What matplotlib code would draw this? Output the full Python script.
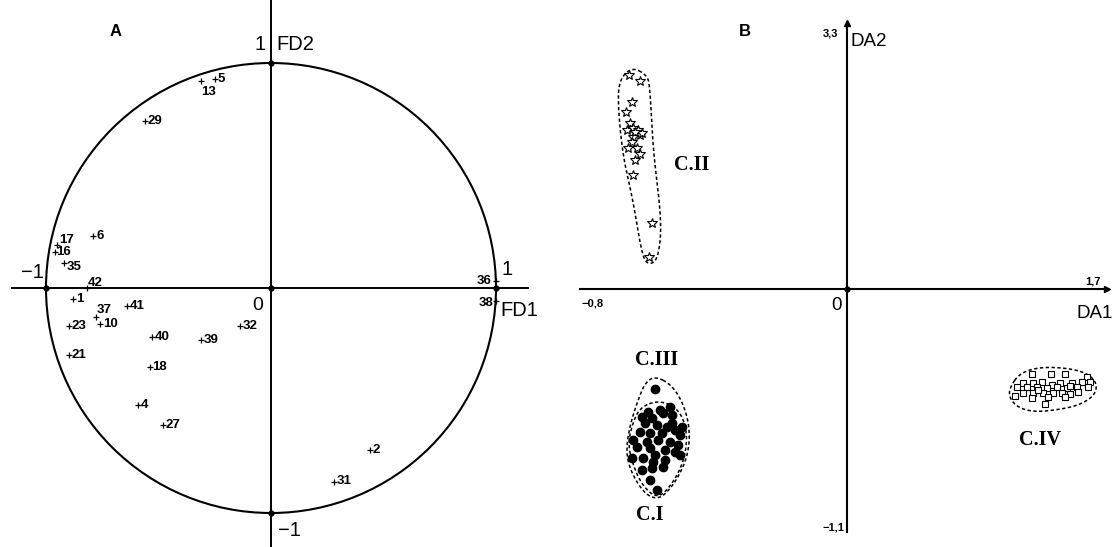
import numpy as np
import matplotlib
matplotlib.use("Agg")
import matplotlib.pyplot as plt
from matplotlib.patches import Circle

plt.rcParams['font.family'] = ['Liberation Sans', 'DejaVu Sans']

# ---- panel A: variables on the correlation circle (FD1, FD2)
var_labels = ['1', '2', '4', '5', '6', '10', '13', '16', '17', '18', '21', '23',
              '27', '29', '31', '32', '35', '36', '37', '38', '39', '40', '41', '42']
fd1 = [-0.88, 0.44, -0.59, -0.25, -0.79, -0.76, -0.31, -0.96, -0.95, -0.54, -0.90, -0.90,
       -0.48, -0.56, 0.28, -0.14, -0.92, 1.00, -0.78, 1.00, -0.31, -0.53, -0.64, -0.82]
fd2 = [-0.05, -0.72, -0.52, 0.93, 0.23, -0.16, 0.92, 0.16, 0.19, -0.35, -0.30, -0.17,
       -0.61, 0.74, -0.86, -0.17, 0.11, 0.03, -0.13, -0.06, -0.23, -0.22, -0.08, 0.00]

# ---- panel B: discriminant scores by cluster (DA1, DA2)
c2_x = [-2.18, -2.07, -2.15, -2.21, -2.17, -2.20, -2.14, -2.09, -2.07, -2.14,
        -2.15, -2.19, -2.10, -2.07, -2.12, -2.14, -1.95, -1.98, -2.05, -2.12]
c2_y = [2.14, 2.08, 1.87, 1.77, 1.66, 1.59, 1.61, 1.59, 1.54, 1.52,
        1.47, 1.41, 1.41, 1.35, 1.29, 1.14, 0.66, 0.32, 1.56, 1.57]

c1_x = [-1.92, -1.99, -1.87, -1.77, -2.05, -1.95, -1.84, -1.75, -2.02, -1.90,
        -1.80, -2.07, -1.97, -1.85, -1.72, -1.67, -2.00, -1.89, -1.77, -1.69,
        -2.10, -1.97, -1.82, -1.72, -2.15, -2.04, -1.92, -1.82, -1.67, -2.05,
        -1.95, -1.84, -1.97, -1.90, -2.14, -1.75, -1.94, -1.65]
c1_y = [-1.00, -1.23, -1.21, -1.18, -1.28, -1.29, -1.24, -1.26, -1.34, -1.36,
        -1.38, -1.43, -1.44, -1.44, -1.41, -1.46, -1.53, -1.51, -1.53, -1.56,
        -1.58, -1.59, -1.61, -1.63, -1.69, -1.69, -1.66, -1.71, -1.66, -1.81,
        -1.79, -1.78, -1.91, -2.01, -1.51, -1.34, -1.73, -1.38]

c4_x = [1.85, 2.04, 2.18, 2.40, 1.76, 1.86, 1.95, 2.05, 2.13, 2.25, 2.35, 2.43,
        1.70, 1.80, 1.90, 2.00, 2.10, 2.20, 2.30, 2.41, 1.68, 1.76, 1.86, 1.96,
        2.06, 2.15, 2.23, 2.31, 1.85, 2.01, 2.18, 1.98, 1.91, 2.23]
c4_y = [-0.85, -0.85, -0.85, -0.88, -0.94, -0.94, -0.93, -0.96, -0.94, -0.94, -0.93, -0.93,
        -0.98, -0.98, -0.98, -0.99, -0.98, -0.99, -0.98, -0.98, -1.07, -1.04, -1.04, -1.04,
        -1.04, -1.04, -1.05, -1.03, -1.09, -1.08, -1.08, -1.15, -1.01, -0.97]

# hand-drawn envelopes (control points)
env_c2 = [(-2.15, 2.22), (-2.00, 2.14), (-1.97, 2.02), (-1.94, 1.39), (-1.85, 0.66), (-1.89, 0.29),
          (-1.99, 0.24), (-2.05, 0.34), (-2.14, 0.89), (-2.24, 1.32), (-2.29, 1.82), (-2.28, 2.09)]
env_c3 = [(-1.92, -0.87), (-1.75, -0.96), (-1.63, -1.16), (-1.57, -1.41), (-1.59, -1.66), (-1.69, -1.89),
          (-1.82, -2.06), (-1.92, -2.10), (-2.04, -2.03), (-2.17, -1.81), (-2.21, -1.61), (-2.17, -1.36),
          (-2.09, -1.11), (-2.02, -0.94)]
env_c1 = [(-2.07, -1.18), (-1.87, -1.11), (-1.67, -1.21), (-1.59, -1.46), (-1.64, -1.76), (-1.79, -2.01),
          (-1.91, -2.09), (-2.05, -1.96), (-2.14, -1.76), (-2.19, -1.56), (-2.15, -1.36)]
env_c4 = [(1.63, -0.98), (1.73, -0.84), (1.93, -0.78), (2.20, -0.79), (2.40, -0.84), (2.50, -0.94),
          (2.48, -1.06), (2.33, -1.16), (2.10, -1.21), (1.86, -1.23), (1.70, -1.18), (1.62, -1.08)]


def smooth_closed(pts, n=4):
    # chaikin corner cutting, closed curve
    p = np.array(pts, dtype=float)
    for _ in range(n):
        q = np.roll(p, -1, axis=0)
        p = np.vstack([0.75 * p + 0.25 * q, 0.25 * p + 0.75 * q]).reshape(2, -1, 2).transpose(1, 0, 2).reshape(-1, 2)
    return np.vstack([p, p[:1]])


fig = plt.figure(figsize=(11.17, 5.47), dpi=100)

# panel A
axA = fig.add_axes([0, 0, 560 / 1117, 1])
axA.set_xlim(-271 / 225, 289 / 225)
axA.set_ylim(-259 / 225, 288 / 225)
axA.axis('off')
axA.add_patch(Circle((0, 0), 1, fill=False, lw=1.5, color='black'))
axA.plot([-1.15, 1.14], [0, 0], color='black', lw=1.4)
axA.plot([0, 0], [-1.16, 1.28], color='black', lw=1.4)
axA.plot([-1, 1, 0, 0, 0], [0, 0, 1, -1, 0], 'o', color='black', ms=3.5)
axA.plot(fd1, fd2, '+', color='black', ms=4, mew=0.9)

offsets = {'13': (0, -8), '36': (-3, 0), '38': (-2, -1), '37': (1, 5), '17': (1, 4),
           '16': (1, 0), '42': (1, 3.5), '35': (2, -3)}
for lab, x, y in zip(var_labels, fd1, fd2):
    dx, dy = offsets.get(lab, (2, 0))
    ha = 'right' if lab in ('36', '38') else 'left'
    axA.annotate(lab, (x, y), xytext=(dx, dy), textcoords='offset points',
                 ha=ha, va='center', fontsize=9.5, fontweight='bold')

axA.text(-1.06, 0.07, '\u22121', fontsize=14.5, ha='center', va='center')
axA.text(1.05, 0.08, '1', fontsize=14.5, ha='center', va='center')
axA.text(-0.05, 1.08, '1', fontsize=14.5, ha='center', va='center')
axA.text(0.025, 1.08, 'FD2', fontsize=14.5, ha='left', va='center')
axA.text(-0.06, -0.08, '0', fontsize=14, ha='center', va='center')
axA.text(0.03, -1.08, '\u22121', fontsize=14.5, ha='left', va='center')
axA.text(1.02, -0.10, 'FD1', fontsize=14.5, ha='left', va='center')
axA.text(-0.69, 1.14, 'A', fontsize=12, fontweight='bold', ha='center', va='center')

# panel B
axB = fig.add_axes([560 / 1117, 0, 557 / 1117, 1])
axB.set_xlim(-2.87, 2.70)
axB.set_ylim(-2.58, 2.89)
axB.axis('off')
axB.plot([-2.67, 2.58], [0, 0], color='black', lw=1.5)
axB.plot([0, 0], [-2.43, 2.64], color='black', lw=1.5)
axB.plot([2.6], [0], '>', color='black', ms=5)
axB.plot([0], [2.66], '^', color='black', ms=5)
axB.plot([0], [0], 'o', color='black', ms=3.5)

for env in (env_c2, env_c3, env_c1, env_c4):
    s = smooth_closed(env)
    axB.plot(s[:, 0], s[:, 1], color='black', lw=1.1, linestyle=(0, (2.2, 1.6)))

axB.plot(c2_x, c2_y, '*', mfc='white', mec='black', ms=7, mew=0.8, ls='none')
axB.plot(c1_x, c1_y, 'o', color='black', ms=6, ls='none')
axB.plot(c4_x, c4_y, 's', mfc='white', mec='black', ms=5, mew=0.8, ls='none')

serif = ['Liberation Serif', 'DejaVu Serif']
axB.text(-1.55, 1.24, 'C.II', fontsize=14.5, fontweight='bold', family=serif, ha='center', va='center')
axB.text(-1.90, -0.71, 'C.III', fontsize=14.5, fontweight='bold', family=serif, ha='center', va='center')
axB.text(-1.97, -2.26, 'C.I', fontsize=14.5, fontweight='bold', family=serif, ha='center', va='center')
axB.text(1.93, -1.51, 'C.IV', fontsize=14.5, fontweight='bold', family=serif, ha='center', va='center')

axB.text(-0.17, 2.56, '3,3', fontsize=8, fontweight='bold', ha='center', va='center')
axB.text(0.04, 2.47, 'DA2', fontsize=13.5, ha='left', va='center')
axB.text(2.46, 0.07, '1,7', fontsize=8, fontweight='bold', ha='center', va='center')
axB.text(-2.54, -0.14, '\u22120,8', fontsize=8, fontweight='bold', ha='center', va='center')
axB.text(-0.14, -2.39, '\u22121,1', fontsize=8, fontweight='bold', ha='center', va='center')
axB.text(-0.11, -0.17, '0', fontsize=13.5, ha='center', va='center')
axB.text(2.48, -0.24, 'DA1', fontsize=13.5, ha='center', va='center')
axB.text(-1.02, 2.57, 'B', fontsize=12, fontweight='bold', ha='center', va='center')

fig.savefig('out.png', dpi=100)
